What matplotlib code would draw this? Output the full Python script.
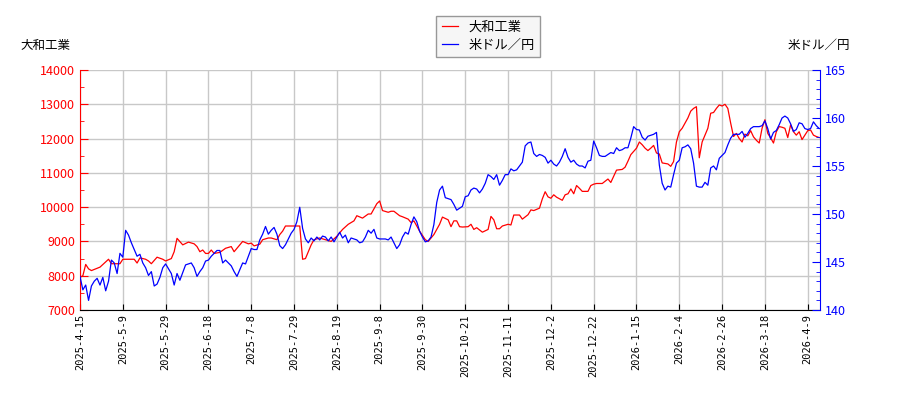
import numpy as np
import matplotlib.pyplot as plt
from matplotlib.ticker import MultipleLocator, FixedLocator

plt.rcParams['font.family'] = ['Noto Sans CJK JP', 'DejaVu Sans']

# trading-day index -> price (大和工業)
stock_idx = [0, 1, 2, 3, 4, 7, 10, 11, 14, 15, 19, 20, 21, 23, 24, 25, 27, 29, 30, 32,
             33, 34, 36, 38, 40, 41, 42, 43, 44, 45, 46, 47, 49, 51, 53, 54, 55, 57, 59, 60,
             61, 63, 64, 66, 67, 69, 70, 71, 72, 74, 76, 77, 78, 79, 80, 81, 82, 84, 86, 88,
             90, 92, 94, 96, 97, 99, 101, 102, 104, 105, 106, 108, 109, 110, 112, 113, 115, 116, 117, 119,
             121, 122, 124, 126, 127, 129, 130, 131, 132, 133, 134, 136, 137, 138, 139, 141, 143, 144, 145, 146,
             147, 148, 150, 151, 152, 154, 155, 157, 158, 159, 161, 162, 163, 164, 165, 166, 167, 169, 170, 171,
             172, 173, 174, 175, 176, 178, 179, 180, 181, 183, 185, 186, 188, 190, 191, 192, 193, 195, 196, 197,
             198, 199, 200, 201, 202, 203, 204, 206, 207, 208, 209, 210, 211, 212, 213, 214, 215, 216, 217, 218,
             219, 220, 221, 222, 223, 224, 225, 226, 227, 228, 229, 230, 231, 232, 233, 234, 235, 236, 237, 238,
             239, 240, 241, 242, 243, 244, 245, 246, 247, 248, 249, 250, 251, 252, 253, 254, 255, 256, 257, 258,
             259]
stock = [7950, 8000, 8330, 8200, 8150, 8250, 8480, 8350, 8350, 8480, 8480, 8370, 8520, 8480, 8430, 8350, 8540, 8480, 8430, 8500,
         8700, 9090, 8900, 8980, 8930, 8850, 8700, 8750, 8650, 8650, 8750, 8650, 8680, 8800, 8850, 8700, 8800, 9000, 8930, 8950,
         8870, 8920, 9050, 9100, 9100, 9050, 9200, 9300, 9450, 9450, 9450, 9450, 8480, 8500, 8700, 8900, 9050, 9100, 9050, 9000,
         9150, 9350, 9500, 9600, 9750, 9680, 9800, 9800, 10100, 10180, 9900, 9850, 9880, 9880, 9750, 9720, 9650, 9550, 9600, 9300,
         9050, 9000, 9200, 9500, 9710, 9630, 9430, 9600, 9600, 9430, 9420, 9430, 9500, 9350, 9400, 9270, 9350, 9730, 9630, 9370,
         9370, 9450, 9500, 9480, 9770, 9770, 9650, 9780, 9920, 9900, 9970, 10240, 10450, 10300, 10260, 10360, 10290, 10200, 10360, 10390,
         10530, 10390, 10630, 10550, 10460, 10460, 10630, 10670, 10690, 10690, 10820, 10720, 11080, 11100, 11165, 11340, 11530, 11720, 11900, 11820,
         11720, 11650, 11720, 11800, 11580, 11550, 11290, 11260, 11190, 11330, 11900, 12200, 12300, 12450, 12600, 12800, 12880, 12930, 11440, 11900,
         12100, 12300, 12740, 12760, 12880, 12980, 12950, 13000, 12880, 12450, 12060, 12150, 12000, 11900, 12130, 12080, 12230, 12050, 11950, 11870,
         12300, 12550, 12150, 12020, 11870, 12200, 12350, 12330, 12300, 12030, 12400, 12200, 12100, 12200, 11970, 12100, 12230, 12250, 12100, 12060,
         12030]

# daily 米ドル／円
usdjpy = [143.5, 142.1, 142.6, 141.0, 142.5, 143.0, 143.3, 142.6, 143.4, 142.0,
          143.0, 145.2, 144.9, 143.8, 145.9, 145.5, 148.3, 147.8, 147.0, 146.3,
          145.6, 145.8, 144.9, 144.4, 143.6, 144.0, 142.5, 142.7, 143.4, 144.4,
          144.8, 144.3, 143.8, 142.6, 143.8, 143.1, 143.9, 144.7, 144.8, 144.9,
          144.4, 143.5, 144.0, 144.4, 145.1, 145.2, 145.6, 145.9, 146.2, 146.2,
          144.9, 145.2, 144.9, 144.6, 144.0, 143.5, 144.2, 144.9, 144.8, 145.6,
          146.4, 146.3, 146.3, 147.3, 147.9, 148.7, 147.9, 148.3, 148.6, 147.9,
          146.7, 146.4, 146.8, 147.4, 148.0, 148.4, 149.2, 150.7, 148.5, 147.4,
          147.0, 147.5, 147.2, 147.6, 147.3, 147.7, 147.6, 147.2, 147.6, 147.1,
          147.6, 148.1, 147.5, 147.8, 147.0, 147.5, 147.4, 147.3, 147.0, 147.1,
          147.6, 148.3, 148.0, 148.4, 147.5, 147.4, 147.4, 147.4, 147.3, 147.6,
          147.0, 146.4, 146.8, 147.6, 148.1, 147.9, 148.9, 149.7, 149.2, 148.2,
          147.6, 147.1, 147.2, 147.6, 148.9, 151.2, 152.5, 152.9, 151.7, 151.6,
          151.5, 151.0, 150.4, 150.6, 150.8, 151.8, 151.9, 152.5, 152.7, 152.6,
          152.2, 152.6, 153.2, 154.1, 153.9, 153.6, 154.1, 153.0, 153.5, 154.1,
          154.1, 154.7, 154.5, 154.6, 155.0, 155.4, 157.1, 157.4, 157.5, 156.3,
          156.0, 156.2, 156.1, 155.9, 155.3, 155.6, 155.2, 155.0, 155.4, 156.0,
          156.8, 155.9, 155.4, 155.6, 155.2, 155.0, 155.0, 154.8, 155.5, 155.6,
          157.6, 156.9, 156.1, 156.0, 156.0, 156.2, 156.4, 156.3, 156.9, 156.6,
          156.7, 156.9, 156.9, 157.9, 159.1, 158.8, 158.75, 158.0, 157.7, 158.1,
          158.2, 158.3, 158.5, 155.1, 153.2, 152.5, 152.9, 152.8, 154.1, 155.3,
          155.6, 156.9, 157.0, 157.2, 156.8, 155.3, 152.9, 152.8, 152.8, 153.3,
          153.0, 154.8, 155.0, 154.6, 155.8, 156.1, 156.4, 157.2, 157.9, 158.3,
          158.3, 158.3, 158.6, 158.0, 158.4, 158.9, 159.1, 159.1, 159.1, 159.2,
          159.7, 158.9, 157.8, 158.5, 158.7, 159.3, 160.0, 160.2, 160.0, 159.4,
          158.6, 158.8, 159.5, 159.4, 158.9, 158.8, 158.9, 159.6, 159.2, 158.9]

tick_pos = [0, 15, 30, 45, 60, 75, 90, 105, 120, 135, 150, 165, 180, 195, 210, 225, 240, 255]
tick_labels = ['2025-4-15', '2025-5-9', '2025-5-29', '2025-6-18', '2025-7-8', '2025-7-29',
               '2025-8-19', '2025-9-8', '2025-9-30', '2025-10-21', '2025-11-11', '2025-12-2',
               '2025-12-22', '2026-1-15', '2026-2-4', '2026-2-26', '2026-3-18', '2026-4-9']

fig = plt.figure(figsize=(9, 4), dpi=100)
ax = fig.add_axes([80/900, 90/400, 740/900, 240/400])
ax2 = ax.twinx()

l1, = ax.plot(stock_idx, stock, c='#ff0000', lw=0.9, label='大和工業')
l2, = ax2.plot(np.arange(len(usdjpy)), usdjpy, c='#0000ff', lw=0.9, label='米ドル／円')

ax.set_xlim(0, 259.3)
ax.set_ylim(7000, 14000)
ax2.set_ylim(140, 165)

ax.xaxis.set_major_locator(FixedLocator(tick_pos))
ax.set_xticklabels(tick_labels, rotation=90, family='DejaVu Sans Mono', fontsize=7.5)
ax.yaxis.set_major_locator(MultipleLocator(1000))
ax.yaxis.set_minor_locator(MultipleLocator(500))
ax2.yaxis.set_major_locator(MultipleLocator(5))
ax2.yaxis.set_minor_locator(MultipleLocator(1))

ax.grid(True, color='#c8c8c8', lw=1.0)
ax.set_axisbelow(True)

ax.tick_params(axis='x', direction='in', length=4, pad=3)
ax.tick_params(axis='y', which='major', direction='in', length=6, colors='#ff0000', labelsize=9)
ax.tick_params(axis='y', which='minor', direction='in', length=3, colors='#ff0000')
ax2.tick_params(axis='y', which='major', direction='in', length=6, colors='#0000ff', labelsize=9)
ax2.tick_params(axis='y', which='minor', direction='in', length=3, colors='#0000ff')

for a in (ax, ax2):
    a.spines['top'].set_visible(False)
ax.spines['left'].set_color('#ff0000')
ax2.spines['left'].set_visible(False)
ax.spines['right'].set_visible(False)
ax2.spines['right'].set_color('#0000ff')
ax2.spines['bottom'].set_visible(False)

fig.text(20/900, 1 - 45/400, '大和工業', fontsize=9, va='center', ha='left')
fig.text(850/900, 1 - 45/400, '米ドル／円', fontsize=9, va='center', ha='right')

leg = fig.legend(handles=[l1, l2], loc='upper center', bbox_to_anchor=(488/900, 1 - 9/400),
                 fontsize=9.5, frameon=True, fancybox=False, edgecolor='#808080',
                 facecolor='#f4f4f4', handlelength=1.2, borderpad=0.4, labelspacing=0.35)
leg.get_frame().set_linewidth(1.0)

plt.savefig('out.png', dpi=100)
